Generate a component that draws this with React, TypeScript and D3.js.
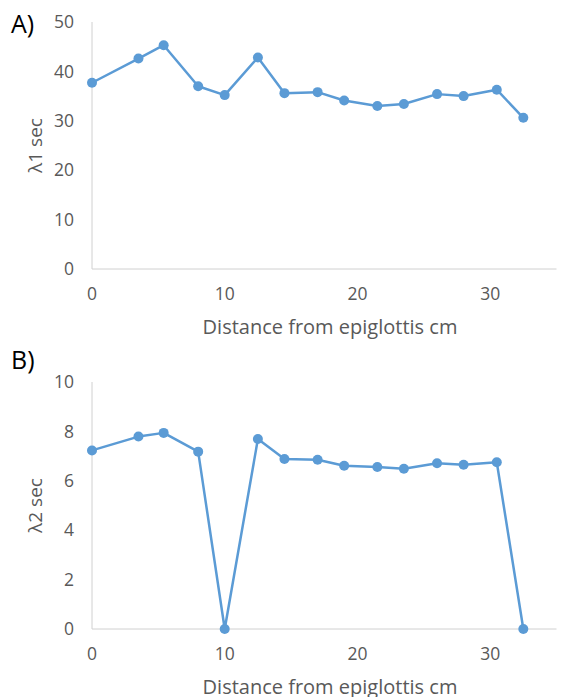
import React from "react";
import * as d3 from "d3";

const distances = [0, 3.5, 5.4, 8, 10, 12.5, 14.5, 17, 19, 21.5, 23.5, 26, 28, 30.5, 32.5];
const lambda1 = [37.7, 42.6, 45.3, 37.0, 35.2, 42.8, 35.6, 35.8, 34.1, 33.0, 33.4, 35.4, 35.0, 36.3, 30.6];
const lambda2 = [7.23, 7.79, 7.94, 7.18, 0, 7.69, 6.88, 6.85, 6.61, 6.56, 6.49, 6.71, 6.65, 6.75, 0];
const xTicks = [0, 10, 20, 30];
const yTicksA = [0, 10, 20, 30, 40, 50];
const yTicksB = [0, 2, 4, 6, 8, 10];

const FONT = "'Open Sans', sans-serif";
const BLUE = "#5b9bd5";

type PanelProps = {
  top: number;
  bottom: number;
  values: number[];
  yMax: number;
  yTicks: number[];
  letter: string;
  letterY: number;
  yLabel: string;
};

function Panel({ top, bottom, values, yMax, yTicks, letter, letterY, yLabel }: PanelProps) {
  const x = d3.scaleLinear().domain([0, 35]).range([92, 556.5]);
  const y = d3.scaleLinear().domain([0, yMax]).range([bottom, top]);
  const line = d3
    .line<number>()
    .x((_, i) => x(distances[i]))
    .y((d) => y(d));
  return (
    <g>
      <text x={11} y={letterY} fontFamily={FONT} fontSize={25} fill="#000">
        {letter}
      </text>
      <line x1={x(0)} x2={x(0)} y1={y(yMax)} y2={y(0)} stroke="#d0d0d0" strokeWidth={1} />
      <line x1={x(0)} x2={x(35)} y1={y(0)} y2={y(0)} stroke="#d0d0d0" strokeWidth={1} />
      {yTicks.map((t) => (
        <text key={t} x={74} y={y(t)} dy="0.35em" textAnchor="end" fontFamily={FONT} fontSize={17.5} fill="#595959">
          {t}
        </text>
      ))}
      {xTicks.map((t) => (
        <text key={t} x={x(t)} y={bottom + 25} dy="0.35em" textAnchor="middle" fontFamily={FONT} fontSize={17.5} fill="#595959">
          {t}
        </text>
      ))}
      <text
        x={330}
        y={bottom + 58}
        dy="0.35em"
        textAnchor="middle"
        fontFamily={FONT}
        fontSize={20}
        fill="#595959"
      >
        Distance from epiglottis cm
      </text>
      <text
        transform={`translate(35, ${(top + bottom) / 2}) rotate(-90)`}
        textAnchor="middle"
        dy="0.35em"
        fontFamily={FONT}
        fontSize={19}
        fill="#595959"
      >
        {yLabel}
      </text>
      <path d={line(values) || ""} fill="none" stroke={BLUE} strokeWidth={2.5} strokeLinejoin="round" />
      {values.map((v, i) => (
        <circle key={i} cx={x(distances[i])} cy={y(v)} r={5} fill={BLUE} />
      ))}
    </g>
  );
}

export default function App() {
  return (
    <svg
      width={568}
      height={697}
      style={{ position: "absolute", left: 0, top: 0, background: "#fff" }}
    >
      <rect width={568} height={697} fill="#fff" />
      <Panel top={22} bottom={269} values={lambda1} yMax={50} yTicks={yTicksA} letter="A)" letterY={33} yLabel="λ1 sec" />
      <Panel top={382} bottom={629} values={lambda2} yMax={10} yTicks={yTicksB} letter="B)" letterY={369} yLabel="λ2 sec" />
    </svg>
  );
}
